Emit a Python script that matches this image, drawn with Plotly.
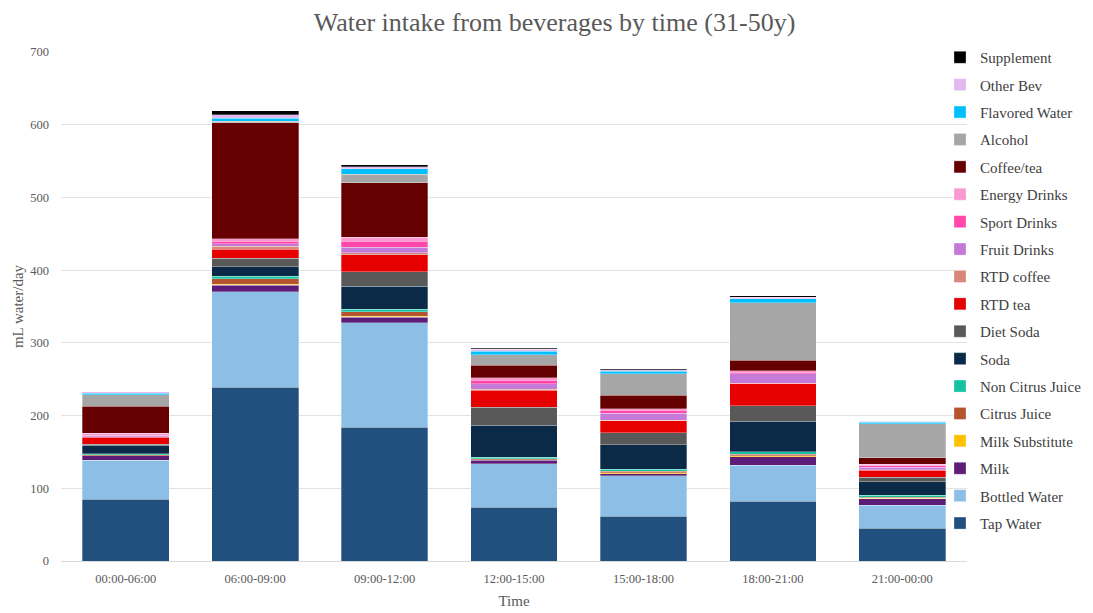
import plotly.graph_objects as go

categories = ["00:00-06:00", "06:00-09:00", "09:00-12:00", "12:00-15:00",
              "15:00-18:00", "18:00-21:00", "21:00-00:00"]

tap_water       = [85.0, 239.0, 184.0, 74.0, 61.5, 82.0, 45.0]
bottled_water   = [53.5, 131.0, 143.5, 60.0, 55.8, 50.0, 31.6]
milk            = [6.0, 9.0, 7.5, 4.5, 2.7, 11.5, 8.7]
milk_substitute = [0.5, 1.5, 1.5, 0.8, 1.5, 1.5, 1.3]
citrus_juice    = [1.0, 8.0, 6.5, 1.2, 1.8, 1.7, 1.4]
non_citrus      = [1.5, 3.0, 3.5, 2.0, 2.8, 3.6, 2.3]
soda            = [12.0, 13.5, 31.5, 44.0, 33.9, 41.7, 18.4]
diet_soda       = [1.0, 11.5, 19.7, 25.2, 16.5, 21.6, 6.4]
rtd_tea         = [10.0, 12.5, 23.4, 23.3, 16.5, 30.7, 9.6]
rtd_coffee      = [0.5, 4.0, 2.5, 1.5, 0.5, 0.5, 0.5]
fruit_drinks    = [1.0, 3.0, 8.0, 7.2, 9.6, 13.0, 4.0]
sport_drinks    = [1.0, 4.0, 8.0, 5.0, 4.0, 2.0, 2.0]
energy_drinks   = [3.0, 3.0, 5.6, 3.5, 2.4, 2.0, 2.0]
coffee_tea      = [36.5, 160.0, 75.0, 17.0, 18.4, 14.0, 8.7]
alcohol         = [16.0, 2.0, 12.0, 14.5, 29.3, 79.3, 47.0]
flavored_water  = [2.5, 4.0, 7.0, 5.0, 3.7, 5.7, 2.0]
other_bev       = [1.5, 4.5, 3.0, 2.5, 2.0, 2.0, 1.0]
supplement      = [0.5, 6.0, 3.0, 1.5, 1.2, 2.0, 0.5]

series_names = ["Tap Water", "Bottled Water", "Milk", "Milk Substitute", "Citrus Juice",
                "Non Citrus Juice", "Soda", "Diet Soda", "RTD tea", "RTD coffee",
                "Fruit Drinks", "Sport Drinks", "Energy Drinks", "Coffee/tea", "Alcohol",
                "Flavored Water", "Other Bev", "Supplement"]
series_values = [tap_water, bottled_water, milk, milk_substitute, citrus_juice, non_citrus,
                 soda, diet_soda, rtd_tea, rtd_coffee, fruit_drinks, sport_drinks,
                 energy_drinks, coffee_tea, alcohol, flavored_water, other_bev, supplement]
series_colors = ["#21507F", "#8DBFE6", "#5C1C78", "#FFC000", "#B5552E", "#14C2A3",
                 "#0B2A48", "#595959", "#E60000", "#D9877A", "#C67AD8", "#FF48AA",
                 "#FA98D0", "#660000", "#A6A6A6", "#00BFFF", "#E2B8EE", "#000000"]

FONT = "Palatino Linotype, Book Antiqua, Palatino, Liberation Serif, serif"

n = len(series_names)
fig = go.Figure()
for i, (name, vals, col) in enumerate(zip(series_names, series_values, series_colors)):
    fig.add_trace(go.Bar(
        x=categories, y=vals, name=name,
        marker=dict(color=col, line=dict(color="rgba(255,255,255,0.6)", width=0.5)),
        legendgroup=f"g{i}", legendrank=n - i,
    ))

fig.update_layout(
    barmode="stack",
    bargap=0.33,
    width=1093, height=613,
    paper_bgcolor="white", plot_bgcolor="white",
    margin=dict(l=53, r=134, t=44, b=60, autoexpand=False),
    font=dict(family=FONT, color="#595959"),
    title=dict(text="Water intake from beverages by time (31-50y)",
               x=0.5, xanchor="center", y=1 - 14 / 613, yanchor="middle",
               font=dict(family=FONT, size=26, color="#595959")),
    legend=dict(traceorder="grouped", tracegroupgap=4.9,
                x=0.9702, xanchor="left", y=1.0216, yanchor="top",
                font=dict(family=FONT, size=15, color="#404040"),
                bgcolor="rgba(0,0,0,0)", maxheight=1.0),
    xaxis=dict(title=dict(text="Time", font=dict(family=FONT, size=15, color="#595959"), standoff=10),
               tickfont=dict(family=FONT, size=12.5, color="#595959"),
               showline=True, linecolor="#D9D9D9", linewidth=1, ticks="",
               ticklabelstandoff=6),
    yaxis=dict(title=dict(text="mL water/day", font=dict(family=FONT, size=15, color="#595959"), standoff=3),
               range=[0, 700], dtick=100,
               tickfont=dict(family=FONT, size=12.5, color="#595959"),
               showgrid=True, gridcolor="#E3E3E3", gridwidth=1,
               zeroline=False, ticks="", ticklabelstandoff=11),
)

fig.write_html("out.html")
